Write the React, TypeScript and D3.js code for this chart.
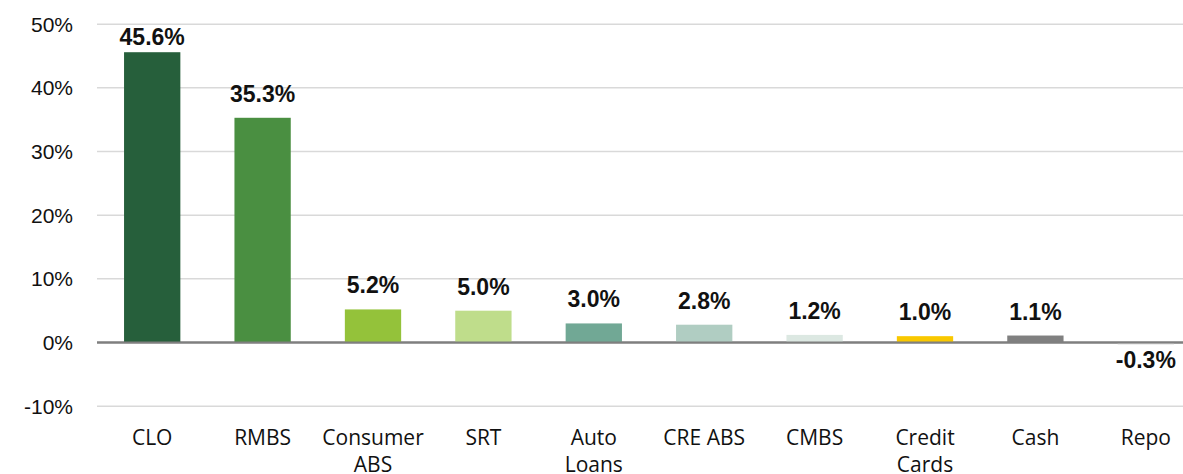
import React from "react";
import * as d3 from "d3";

const categories = [
  "CLO",
  "RMBS",
  "Consumer\nABS",
  "SRT",
  "Auto\nLoans",
  "CRE ABS",
  "CMBS",
  "Credit\nCards",
  "Cash",
  "Repo",
];
const values = [45.6, 35.3, 5.2, 5.0, 3.0, 2.8, 1.2, 1.0, 1.1, -0.3];
const barColors = [
  "#265f3b",
  "#4a8f41",
  "#94c23a",
  "#bfdd8b",
  "#71a895",
  "#b0cdc2",
  "#dce8e2",
  "#f9c800",
  "#808080",
  "#d9d9d9",
];
const yTicks = [-10, 0, 10, 20, 30, 40, 50];

function Chart() {
  const width = 1183;
  const height = 474;
  const plotLeft = 97;
  const plotRight = 1201;
  const yTop = 24.2;
  const yBottom = 406.2;

  const x = d3
    .scaleBand<string>()
    .domain(categories)
    .range([plotLeft, plotRight])
    .paddingInner(0.49)
    .paddingOuter(0.245);

  const y = d3.scaleLinear().domain([-10, 50]).range([yBottom, yTop]);

  const labelFont = "'Liberation Sans', Arial, sans-serif";
  const catFont = "'Open Sans', 'Noto Sans', sans-serif";

  return (
    <svg
      width={width}
      height={height}
      style={{ position: "absolute", left: 0, top: 0, background: "#fff" }}
    >
      {/* grid */}
      <g>
        {yTicks.map((t) => (
          <g key={t}>
            <line
              x1={plotLeft}
              x2={width}
              y1={y(t)}
              y2={y(t)}
              stroke={t === 0 ? "#7f7f7f" : "#d9d9d9"}
              strokeWidth={t === 0 ? 2 : 1.5}
            />
            <text
              x={73}
              y={y(t)}
              dy="0.36em"
              textAnchor="end"
              fontFamily={labelFont}
              fontSize={21}
              fill="#111"
            >
              {t + "%"}
            </text>
          </g>
        ))}
      </g>

      {/* bars */}
      <g>
        {values.map((v, i) => {
          const c = categories[i];
          const y0 = y(0);
          const yv = y(v);
          return (
            <rect
              key={c}
              x={x(c)}
              y={Math.min(y0, yv)}
              width={x.bandwidth()}
              height={Math.abs(yv - y0)}
              fill={barColors[i]}
            />
          );
        })}
      </g>

      {/* zero line on top of bars */}
      <line
        x1={plotLeft}
        x2={width}
        y1={y(0)}
        y2={y(0)}
        stroke="#7f7f7f"
        strokeWidth={2}
      />

      {/* value labels */}
      <g>
        {values.map((v, i) => {
          const c = categories[i];
          const cx = (x(c) as number) + x.bandwidth() / 2;
          const ly = v >= 0 ? Math.max(y(v) - 16, 45) : y(v) + 24;
          return (
            <text
              key={c}
              x={cx}
              y={ly}
              textAnchor="middle"
              fontFamily={labelFont}
              fontWeight="bold"
              fontSize={23}
              fill="#111"
            >
              {v.toFixed(1) + "%"}
            </text>
          );
        })}
      </g>

      {/* category labels */}
      <g>
        {categories.map((c) => {
          const cx = (x(c) as number) + x.bandwidth() / 2;
          return (
            <text
              key={c}
              x={cx}
              y={445}
              textAnchor="middle"
              fontFamily={catFont}
              fontSize={21}
              fill="#111"
            >
              {c.split("\n").map((line, j) => (
                <tspan key={j} x={cx} dy={j === 0 ? 0 : 27}>
                  {line}
                </tspan>
              ))}
            </text>
          );
        })}
      </g>
    </svg>
  );
}

export default function App() {
  return <Chart />;
}
